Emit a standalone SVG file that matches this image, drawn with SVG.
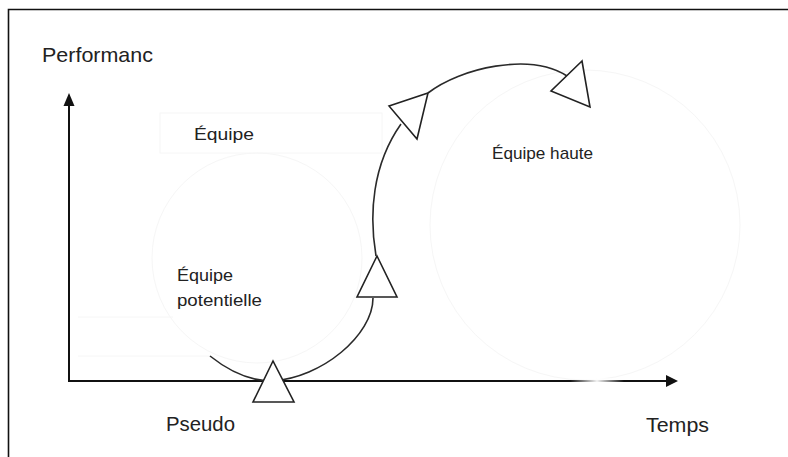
<svg xmlns="http://www.w3.org/2000/svg" width="788" height="457" viewBox="0 0 788 457">
  <style>
    .faint { fill: none; stroke: #f6f6f6; stroke-width: 1; }
    .curve { fill: none; stroke: #2a2a2a; stroke-width: 1.6; }
    .axis { fill: none; stroke: #111; stroke-width: 2; }
    .tri { fill: #fff; stroke: #222; stroke-width: 1.6; stroke-linejoin: miter; }
    .big { font-family: "Liberation Sans", Arial, sans-serif; font-size: 21px; fill: #222; }
    .small { font-family: "Liberation Sans", Arial, sans-serif; font-size: 17px; fill: #222; }
  </style>
  <defs>
    <linearGradient id="gap" x1="0" y1="0" x2="1" y2="0">
      <stop offset="0" stop-color="#fff" stop-opacity="0"/>
      <stop offset="0.5" stop-color="#fff" stop-opacity="0.95"/>
      <stop offset="1" stop-color="#fff" stop-opacity="0"/>
    </linearGradient>
  </defs>
  <rect width="788" height="457" fill="#fff"/>
  <path d="M8.5,457 V9.5 H788" fill="none" stroke="#111" stroke-width="1.6"/>

  <g id="faint-shapes">
    <circle class="faint" cx="257" cy="258" r="105"/>
    <circle class="faint" cx="585" cy="225" r="155"/>
    <rect class="faint" x="160" y="113" width="222" height="40"/>
    <line class="faint" x1="78" y1="317" x2="173" y2="317"/>
    <line class="faint" x1="78" y1="356" x2="210" y2="356"/>
  </g>

  <g id="connectors">
    <line class="axis" x1="69" y1="381" x2="69" y2="104"/>
    <polygon points="69,93 63.5,106 74.5,106" fill="#111"/>
    <line class="axis" x1="68" y1="381" x2="668" y2="381"/>
    <polygon points="678,381 666,375 666,387" fill="#111"/>
    <rect x="570" y="378" width="54" height="6" fill="url(#gap)"/>
    <path class="curve" d="M210,356 C230,372 250,381 272,381 C322,378 373,335 373,298"/>
    <path class="curve" d="M376,256 C369,215 372,165 401,124"/>
    <path class="curve" d="M428,93 C460,68 530,52 567,76"/>
  </g>

  <g id="triangles">
    <polygon class="tri" points="273,361 253,402 294,402"/>
    <polygon class="tri" points="377,256 357,297 397,297"/>
    <polygon class="tri" points="389,106 428,93 417,139"/>
    <polygon class="tri" points="582,61 551,91 590,107"/>
  </g>

  <g id="label-performance"><text class="big" x="42" y="62" textLength="111" lengthAdjust="spacingAndGlyphs">Performanc</text></g>
  <g id="label-equipe"><text class="small" x="194" y="140" textLength="60" lengthAdjust="spacingAndGlyphs">Équipe</text></g>
  <g id="label-equipe-haute"><text class="small" x="492" y="159" textLength="101" lengthAdjust="spacingAndGlyphs">Équipe haute</text></g>
  <g id="label-equipe-potentielle">
    <text class="small" x="177" y="281" textLength="56" lengthAdjust="spacingAndGlyphs">Équipe</text>
    <text class="small" x="177" y="306" textLength="85" lengthAdjust="spacingAndGlyphs">potentielle</text>
  </g>
  <g id="label-pseudo"><text class="big" x="166" y="431" textLength="69" lengthAdjust="spacingAndGlyphs">Pseudo</text></g>
  <g id="label-temps"><text class="big" x="646" y="432" textLength="63" lengthAdjust="spacingAndGlyphs">Temps</text></g>
</svg>
